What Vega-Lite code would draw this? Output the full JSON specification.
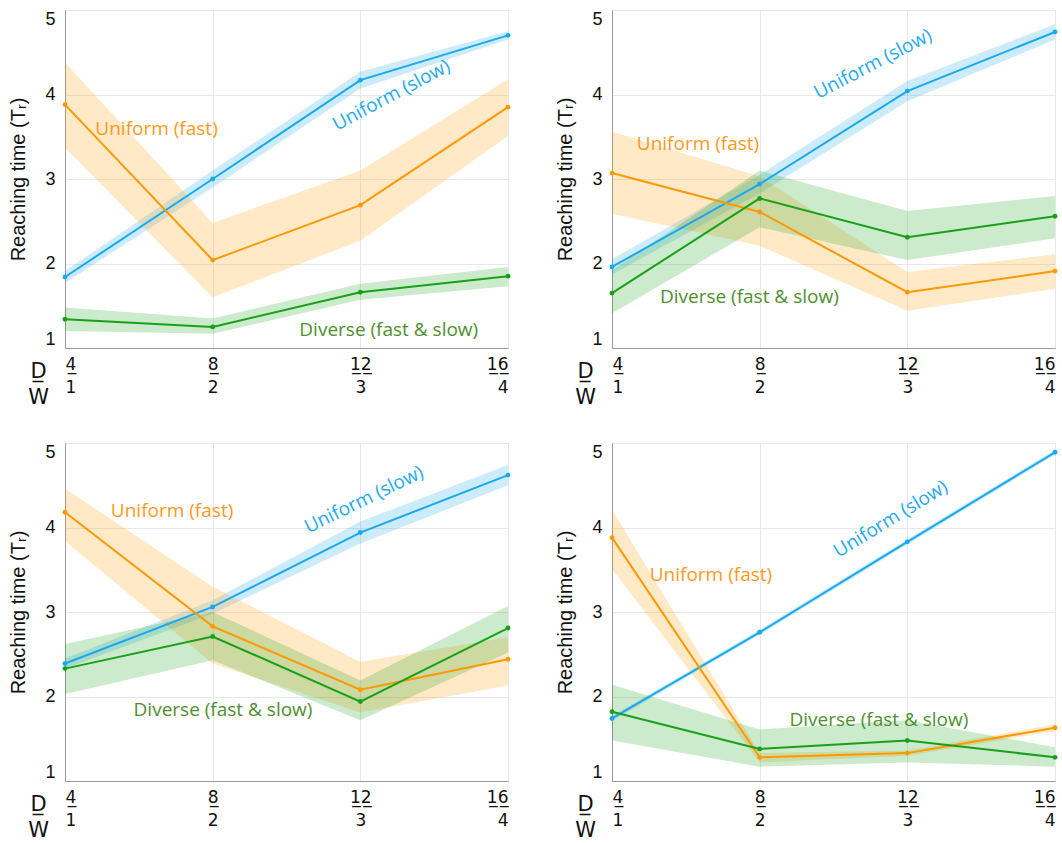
{
  "$schema": "https://vega.github.io/schema/vega-lite/v6.json",
  "padding": {"left": 8, "top": 9, "right": 6, "bottom": 0},
  "autosize": {"type": "pad"},
  "background": "white",
  "columns": 2,
  "spacing": {"row": 95, "column": 104},
  "bounds": "flush",
  "datasets": {
    "pts": [
      {"p": 1, "s": "slow", "x": 4, "m": 1.84, "lo": 1.77, "hi": 1.91},
      {"p": 1, "s": "slow", "x": 8, "m": 3.0, "lo": 2.9, "hi": 3.1},
      {"p": 1, "s": "slow", "x": 12, "m": 4.17, "lo": 4.07, "hi": 4.27},
      {"p": 1, "s": "slow", "x": 16, "m": 4.7, "lo": 4.65, "hi": 4.75},
      {"p": 1, "s": "fast", "x": 4, "m": 3.88, "lo": 3.37, "hi": 4.38},
      {"p": 1, "s": "fast", "x": 8, "m": 2.04, "lo": 1.6, "hi": 2.48},
      {"p": 1, "s": "fast", "x": 12, "m": 2.69, "lo": 2.27, "hi": 3.1},
      {"p": 1, "s": "fast", "x": 16, "m": 3.85, "lo": 3.51, "hi": 4.18},
      {"p": 1, "s": "div", "x": 4, "m": 1.34, "lo": 1.2, "hi": 1.48},
      {"p": 1, "s": "div", "x": 8, "m": 1.25, "lo": 1.17, "hi": 1.35},
      {"p": 1, "s": "div", "x": 12, "m": 1.66, "lo": 1.57, "hi": 1.76},
      {"p": 1, "s": "div", "x": 16, "m": 1.85, "lo": 1.73, "hi": 1.96},
      {"p": 2, "s": "slow", "x": 4, "m": 1.96, "lo": 1.87, "hi": 2.05},
      {"p": 2, "s": "slow", "x": 8, "m": 2.94, "lo": 2.83, "hi": 3.05},
      {"p": 2, "s": "slow", "x": 12, "m": 4.04, "lo": 3.92, "hi": 4.16},
      {"p": 2, "s": "slow", "x": 16, "m": 4.74, "lo": 4.65, "hi": 4.83},
      {"p": 2, "s": "fast", "x": 4, "m": 3.07, "lo": 2.59, "hi": 3.56},
      {"p": 2, "s": "fast", "x": 8, "m": 2.61, "lo": 2.21, "hi": 3.03},
      {"p": 2, "s": "fast", "x": 12, "m": 1.66, "lo": 1.44, "hi": 1.9},
      {"p": 2, "s": "fast", "x": 16, "m": 1.91, "lo": 1.7, "hi": 2.11},
      {"p": 2, "s": "div", "x": 4, "m": 1.65, "lo": 1.41, "hi": 1.92},
      {"p": 2, "s": "div", "x": 8, "m": 2.77, "lo": 2.43, "hi": 3.1},
      {"p": 2, "s": "div", "x": 12, "m": 2.31, "lo": 2.04, "hi": 2.62},
      {"p": 2, "s": "div", "x": 16, "m": 2.56, "lo": 2.3, "hi": 2.8},
      {"p": 3, "s": "slow", "x": 4, "m": 2.39, "lo": 2.33, "hi": 2.45},
      {"p": 3, "s": "slow", "x": 8, "m": 3.06, "lo": 2.98, "hi": 3.14},
      {"p": 3, "s": "slow", "x": 12, "m": 3.94, "lo": 3.81, "hi": 4.07},
      {"p": 3, "s": "slow", "x": 16, "m": 4.62, "lo": 4.5, "hi": 4.74},
      {"p": 3, "s": "fast", "x": 4, "m": 4.18, "lo": 3.84, "hi": 4.46},
      {"p": 3, "s": "fast", "x": 8, "m": 2.83, "lo": 2.39, "hi": 3.3},
      {"p": 3, "s": "fast", "x": 12, "m": 2.08, "lo": 1.81, "hi": 2.41},
      {"p": 3, "s": "fast", "x": 16, "m": 2.44, "lo": 2.13, "hi": 2.7},
      {"p": 3, "s": "div", "x": 4, "m": 2.33, "lo": 2.03, "hi": 2.62},
      {"p": 3, "s": "div", "x": 8, "m": 2.71, "lo": 2.43, "hi": 3.0},
      {"p": 3, "s": "div", "x": 12, "m": 1.94, "lo": 1.72, "hi": 2.19},
      {"p": 3, "s": "div", "x": 16, "m": 2.81, "lo": 2.52, "hi": 3.07},
      {"p": 4, "s": "slow", "x": 4, "m": 1.74, "lo": 1.71, "hi": 1.77},
      {"p": 4, "s": "slow", "x": 8, "m": 2.76, "lo": 2.73, "hi": 2.79},
      {"p": 4, "s": "slow", "x": 12, "m": 3.83, "lo": 3.8, "hi": 3.86},
      {"p": 4, "s": "slow", "x": 16, "m": 4.89, "lo": 4.86, "hi": 4.92},
      {"p": 4, "s": "fast", "x": 4, "m": 3.88, "lo": 3.51, "hi": 4.21},
      {"p": 4, "s": "fast", "x": 8, "m": 1.28, "lo": 1.22, "hi": 1.33},
      {"p": 4, "s": "fast", "x": 12, "m": 1.33, "lo": 1.3, "hi": 1.36},
      {"p": 4, "s": "fast", "x": 16, "m": 1.63, "lo": 1.59, "hi": 1.67},
      {"p": 4, "s": "div", "x": 4, "m": 1.82, "lo": 1.48, "hi": 2.14},
      {"p": 4, "s": "div", "x": 8, "m": 1.38, "lo": 1.17, "hi": 1.61},
      {"p": 4, "s": "div", "x": 12, "m": 1.48, "lo": 1.22, "hi": 1.72},
      {"p": 4, "s": "div", "x": 16, "m": 1.28, "lo": 1.17, "hi": 1.4}
    ],
    "lab": [
      {"p": 1, "s": "fast", "x": 6.48, "y": 3.59, "t": "Uniform (fast)"},
      {"p": 1, "s": "slow", "x": 12.84, "y": 3.99, "t": "Uniform (slow)"},
      {"p": 1, "s": "div", "x": 12.77, "y": 1.21, "t": "Diverse (fast & slow)"},
      {"p": 2, "s": "fast", "x": 6.33, "y": 3.41, "t": "Uniform (fast)"},
      {"p": 2, "s": "slow", "x": 11.07, "y": 4.36, "t": "Uniform (slow)"},
      {"p": 2, "s": "div", "x": 7.72, "y": 1.6, "t": "Diverse (fast & slow)"},
      {"p": 3, "s": "fast", "x": 6.9, "y": 4.2, "t": "Uniform (fast)"},
      {"p": 3, "s": "slow", "x": 12.1, "y": 4.33, "t": "Uniform (slow)"},
      {"p": 3, "s": "div", "x": 8.28, "y": 1.84, "t": "Diverse (fast & slow)"},
      {"p": 4, "s": "fast", "x": 6.68, "y": 3.44, "t": "Uniform (fast)"},
      {"p": 4, "s": "slow", "x": 11.55, "y": 4.1, "t": "Uniform (slow)"},
      {"p": 4, "s": "div", "x": 11.23, "y": 1.72, "t": "Diverse (fast & slow)"}
    ]
  },
  "config": {
    "view": {"stroke": "#9a9a9a"},
    "axis": {"gridColor": "#e8e8e8", "domainColor": "#9a9a9a", "ticks": false, "labelFont": "Liberation Sans", "titleFont": "Liberation Sans", "labelFontSize": 18, "titleFontSize": 20, "titleFontWeight": "normal", "labelColor": "#111111", "titleColor": "#111111"},
    "axisX": {"labelFont": "DejaVu Sans", "titleFont": "DejaVu Sans", "labelFontSize": 17, "labelPadding": 8, "labelLineHeight": 23, "titleFontSize": 21, "titleLineHeight": 26, "titleX": -27, "titleY": 12, "titleAlign": "center", "titleBaseline": "top", "titleAngle": 0},
    "axisY": {"labelPadding": 10, "titlePadding": 16, "labelFlush": true}
  },
  "concat": [
    {
      "width": 443, "height": 338,
      "encoding": {"x": {"field": "x", "type": "quantitative", "scale": {"domain": [4, 16]}, "axis": {"values": [4, 8, 12, 16], "title": ["D\u0332", "W"], "labelExpr": "[datum.value == 4 ? '4\u0332' : datum.value == 8 ? '8\u0332' : datum.value == 12 ? '1\u03322\u0332' : '1\u03326\u0332', '' + datum.value / 4]"}}},
      "layer": [
        {"data": {"name": "pts"}, "transform": [{"filter": "datum.p == 1"}], "mark": {"type": "area", "opacity": 0.22}, "encoding": {"y": {"field": "lo", "type": "quantitative", "scale": {"domain": [1, 5]}, "axis": {"values": [1, 2, 3, 4, 5], "title": "Reaching time (Tᵣ)"}}, "y2": {"field": "hi"}, "color": {"field": "s", "type": "nominal", "scale": {"domain": ["slow", "fast", "div"], "range": ["#1ba8ee", "#ff9900", "#18a018"]}, "legend": null}}},
        {"data": {"name": "pts"}, "transform": [{"filter": "datum.p == 1"}], "mark": {"type": "line", "strokeWidth": 2}, "encoding": {"y": {"field": "m", "type": "quantitative", "scale": {"domain": [1, 5]}, "axis": {"values": [1, 2, 3, 4, 5], "title": "Reaching time (Tᵣ)"}}, "color": {"field": "s", "type": "nominal", "scale": {"domain": ["slow", "fast", "div"], "range": ["#1ba8ee", "#ff9900", "#18a018"]}, "legend": null}}},
        {"data": {"name": "pts"}, "transform": [{"filter": "datum.p == 1"}], "mark": {"type": "point", "filled": true, "size": 24, "opacity": 1}, "encoding": {"y": {"field": "m", "type": "quantitative", "scale": {"domain": [1, 5]}, "axis": {"values": [1, 2, 3, 4, 5], "title": "Reaching time (Tᵣ)"}}, "color": {"field": "s", "type": "nominal", "scale": {"domain": ["slow", "fast", "div"], "range": ["#1ba8ee", "#ff9900", "#18a018"]}, "legend": null}}},
        {"data": {"name": "lab"}, "transform": [{"filter": "datum.p == 1 && datum.s == 'fast'"}], "mark": {"type": "text", "font": "Open Sans", "fontSize": 19, "color": "#ff9a1c"}, "encoding": {"y": {"field": "y", "type": "quantitative", "scale": {"domain": [1, 5]}, "axis": {"values": [1, 2, 3, 4, 5], "title": "Reaching time (Tᵣ)"}}, "text": {"field": "t"}}},
        {"data": {"name": "lab"}, "transform": [{"filter": "datum.p == 1 && datum.s == 'slow'"}], "mark": {"type": "text", "font": "Open Sans", "fontSize": 19, "color": "#1eaaf0", "angle": -28}, "encoding": {"y": {"field": "y", "type": "quantitative", "scale": {"domain": [1, 5]}, "axis": {"values": [1, 2, 3, 4, 5], "title": "Reaching time (Tᵣ)"}}, "text": {"field": "t"}}},
        {"data": {"name": "lab"}, "transform": [{"filter": "datum.p == 1 && datum.s == 'div'"}], "mark": {"type": "text", "font": "Open Sans", "fontSize": 19, "color": "#4e8f30"}, "encoding": {"y": {"field": "y", "type": "quantitative", "scale": {"domain": [1, 5]}, "axis": {"values": [1, 2, 3, 4, 5], "title": "Reaching time (Tᵣ)"}}, "text": {"field": "t"}}}
      ]
    },
    {
      "width": 443, "height": 338,
      "encoding": {"x": {"field": "x", "type": "quantitative", "scale": {"domain": [4, 16]}, "axis": {"values": [4, 8, 12, 16], "title": ["D\u0332", "W"], "labelExpr": "[datum.value == 4 ? '4\u0332' : datum.value == 8 ? '8\u0332' : datum.value == 12 ? '1\u03322\u0332' : '1\u03326\u0332', '' + datum.value / 4]"}}},
      "layer": [
        {"data": {"name": "pts"}, "transform": [{"filter": "datum.p == 2"}], "mark": {"type": "area", "opacity": 0.22}, "encoding": {"y": {"field": "lo", "type": "quantitative", "scale": {"domain": [1, 5]}, "axis": {"values": [1, 2, 3, 4, 5], "title": "Reaching time (Tᵣ)"}}, "y2": {"field": "hi"}, "color": {"field": "s", "type": "nominal", "scale": {"domain": ["slow", "fast", "div"], "range": ["#1ba8ee", "#ff9900", "#18a018"]}, "legend": null}}},
        {"data": {"name": "pts"}, "transform": [{"filter": "datum.p == 2"}], "mark": {"type": "line", "strokeWidth": 2}, "encoding": {"y": {"field": "m", "type": "quantitative", "scale": {"domain": [1, 5]}, "axis": {"values": [1, 2, 3, 4, 5], "title": "Reaching time (Tᵣ)"}}, "color": {"field": "s", "type": "nominal", "scale": {"domain": ["slow", "fast", "div"], "range": ["#1ba8ee", "#ff9900", "#18a018"]}, "legend": null}}},
        {"data": {"name": "pts"}, "transform": [{"filter": "datum.p == 2"}], "mark": {"type": "point", "filled": true, "size": 24, "opacity": 1}, "encoding": {"y": {"field": "m", "type": "quantitative", "scale": {"domain": [1, 5]}, "axis": {"values": [1, 2, 3, 4, 5], "title": "Reaching time (Tᵣ)"}}, "color": {"field": "s", "type": "nominal", "scale": {"domain": ["slow", "fast", "div"], "range": ["#1ba8ee", "#ff9900", "#18a018"]}, "legend": null}}},
        {"data": {"name": "lab"}, "transform": [{"filter": "datum.p == 2 && datum.s == 'fast'"}], "mark": {"type": "text", "font": "Open Sans", "fontSize": 19, "color": "#ff9a1c"}, "encoding": {"y": {"field": "y", "type": "quantitative", "scale": {"domain": [1, 5]}, "axis": {"values": [1, 2, 3, 4, 5], "title": "Reaching time (Tᵣ)"}}, "text": {"field": "t"}}},
        {"data": {"name": "lab"}, "transform": [{"filter": "datum.p == 2 && datum.s == 'slow'"}], "mark": {"type": "text", "font": "Open Sans", "fontSize": 19, "color": "#1eaaf0", "angle": -27.5}, "encoding": {"y": {"field": "y", "type": "quantitative", "scale": {"domain": [1, 5]}, "axis": {"values": [1, 2, 3, 4, 5], "title": "Reaching time (Tᵣ)"}}, "text": {"field": "t"}}},
        {"data": {"name": "lab"}, "transform": [{"filter": "datum.p == 2 && datum.s == 'div'"}], "mark": {"type": "text", "font": "Open Sans", "fontSize": 19, "color": "#4e8f30"}, "encoding": {"y": {"field": "y", "type": "quantitative", "scale": {"domain": [1, 5]}, "axis": {"values": [1, 2, 3, 4, 5], "title": "Reaching time (Tᵣ)"}}, "text": {"field": "t"}}}
      ]
    },
    {
      "width": 443, "height": 338,
      "encoding": {"x": {"field": "x", "type": "quantitative", "scale": {"domain": [4, 16]}, "axis": {"values": [4, 8, 12, 16], "title": ["D\u0332", "W"], "labelExpr": "[datum.value == 4 ? '4\u0332' : datum.value == 8 ? '8\u0332' : datum.value == 12 ? '1\u03322\u0332' : '1\u03326\u0332', '' + datum.value / 4]"}}},
      "layer": [
        {"data": {"name": "pts"}, "transform": [{"filter": "datum.p == 3"}], "mark": {"type": "area", "opacity": 0.22}, "encoding": {"y": {"field": "lo", "type": "quantitative", "scale": {"domain": [1, 5]}, "axis": {"values": [1, 2, 3, 4, 5], "title": "Reaching time (Tᵣ)"}}, "y2": {"field": "hi"}, "color": {"field": "s", "type": "nominal", "scale": {"domain": ["slow", "fast", "div"], "range": ["#1ba8ee", "#ff9900", "#18a018"]}, "legend": null}}},
        {"data": {"name": "pts"}, "transform": [{"filter": "datum.p == 3"}], "mark": {"type": "line", "strokeWidth": 2}, "encoding": {"y": {"field": "m", "type": "quantitative", "scale": {"domain": [1, 5]}, "axis": {"values": [1, 2, 3, 4, 5], "title": "Reaching time (Tᵣ)"}}, "color": {"field": "s", "type": "nominal", "scale": {"domain": ["slow", "fast", "div"], "range": ["#1ba8ee", "#ff9900", "#18a018"]}, "legend": null}}},
        {"data": {"name": "pts"}, "transform": [{"filter": "datum.p == 3"}], "mark": {"type": "point", "filled": true, "size": 24, "opacity": 1}, "encoding": {"y": {"field": "m", "type": "quantitative", "scale": {"domain": [1, 5]}, "axis": {"values": [1, 2, 3, 4, 5], "title": "Reaching time (Tᵣ)"}}, "color": {"field": "s", "type": "nominal", "scale": {"domain": ["slow", "fast", "div"], "range": ["#1ba8ee", "#ff9900", "#18a018"]}, "legend": null}}},
        {"data": {"name": "lab"}, "transform": [{"filter": "datum.p == 3 && datum.s == 'fast'"}], "mark": {"type": "text", "font": "Open Sans", "fontSize": 19, "color": "#ff9a1c"}, "encoding": {"y": {"field": "y", "type": "quantitative", "scale": {"domain": [1, 5]}, "axis": {"values": [1, 2, 3, 4, 5], "title": "Reaching time (Tᵣ)"}}, "text": {"field": "t"}}},
        {"data": {"name": "lab"}, "transform": [{"filter": "datum.p == 3 && datum.s == 'slow'"}], "mark": {"type": "text", "font": "Open Sans", "fontSize": 19, "color": "#1eaaf0", "angle": -26}, "encoding": {"y": {"field": "y", "type": "quantitative", "scale": {"domain": [1, 5]}, "axis": {"values": [1, 2, 3, 4, 5], "title": "Reaching time (Tᵣ)"}}, "text": {"field": "t"}}},
        {"data": {"name": "lab"}, "transform": [{"filter": "datum.p == 3 && datum.s == 'div'"}], "mark": {"type": "text", "font": "Open Sans", "fontSize": 19, "color": "#4e8f30"}, "encoding": {"y": {"field": "y", "type": "quantitative", "scale": {"domain": [1, 5]}, "axis": {"values": [1, 2, 3, 4, 5], "title": "Reaching time (Tᵣ)"}}, "text": {"field": "t"}}}
      ]
    },
    {
      "width": 443, "height": 338,
      "encoding": {"x": {"field": "x", "type": "quantitative", "scale": {"domain": [4, 16]}, "axis": {"values": [4, 8, 12, 16], "title": ["D\u0332", "W"], "labelExpr": "[datum.value == 4 ? '4\u0332' : datum.value == 8 ? '8\u0332' : datum.value == 12 ? '1\u03322\u0332' : '1\u03326\u0332', '' + datum.value / 4]"}}},
      "layer": [
        {"data": {"name": "pts"}, "transform": [{"filter": "datum.p == 4"}], "mark": {"type": "area", "opacity": 0.22}, "encoding": {"y": {"field": "lo", "type": "quantitative", "scale": {"domain": [1, 5]}, "axis": {"values": [1, 2, 3, 4, 5], "title": "Reaching time (Tᵣ)"}}, "y2": {"field": "hi"}, "color": {"field": "s", "type": "nominal", "scale": {"domain": ["slow", "fast", "div"], "range": ["#1ba8ee", "#ff9900", "#18a018"]}, "legend": null}}},
        {"data": {"name": "pts"}, "transform": [{"filter": "datum.p == 4"}], "mark": {"type": "line", "strokeWidth": 2}, "encoding": {"y": {"field": "m", "type": "quantitative", "scale": {"domain": [1, 5]}, "axis": {"values": [1, 2, 3, 4, 5], "title": "Reaching time (Tᵣ)"}}, "color": {"field": "s", "type": "nominal", "scale": {"domain": ["slow", "fast", "div"], "range": ["#1ba8ee", "#ff9900", "#18a018"]}, "legend": null}}},
        {"data": {"name": "pts"}, "transform": [{"filter": "datum.p == 4"}], "mark": {"type": "point", "filled": true, "size": 24, "opacity": 1}, "encoding": {"y": {"field": "m", "type": "quantitative", "scale": {"domain": [1, 5]}, "axis": {"values": [1, 2, 3, 4, 5], "title": "Reaching time (Tᵣ)"}}, "color": {"field": "s", "type": "nominal", "scale": {"domain": ["slow", "fast", "div"], "range": ["#1ba8ee", "#ff9900", "#18a018"]}, "legend": null}}},
        {"data": {"name": "lab"}, "transform": [{"filter": "datum.p == 4 && datum.s == 'fast'"}], "mark": {"type": "text", "font": "Open Sans", "fontSize": 19, "color": "#ff9a1c"}, "encoding": {"y": {"field": "y", "type": "quantitative", "scale": {"domain": [1, 5]}, "axis": {"values": [1, 2, 3, 4, 5], "title": "Reaching time (Tᵣ)"}}, "text": {"field": "t"}}},
        {"data": {"name": "lab"}, "transform": [{"filter": "datum.p == 4 && datum.s == 'slow'"}], "mark": {"type": "text", "font": "Open Sans", "fontSize": 19, "color": "#1eaaf0", "angle": -31.5}, "encoding": {"y": {"field": "y", "type": "quantitative", "scale": {"domain": [1, 5]}, "axis": {"values": [1, 2, 3, 4, 5], "title": "Reaching time (Tᵣ)"}}, "text": {"field": "t"}}},
        {"data": {"name": "lab"}, "transform": [{"filter": "datum.p == 4 && datum.s == 'div'"}], "mark": {"type": "text", "font": "Open Sans", "fontSize": 19, "color": "#4e8f30"}, "encoding": {"y": {"field": "y", "type": "quantitative", "scale": {"domain": [1, 5]}, "axis": {"values": [1, 2, 3, 4, 5], "title": "Reaching time (Tᵣ)"}}, "text": {"field": "t"}}}
      ]
    }
  ]
}
